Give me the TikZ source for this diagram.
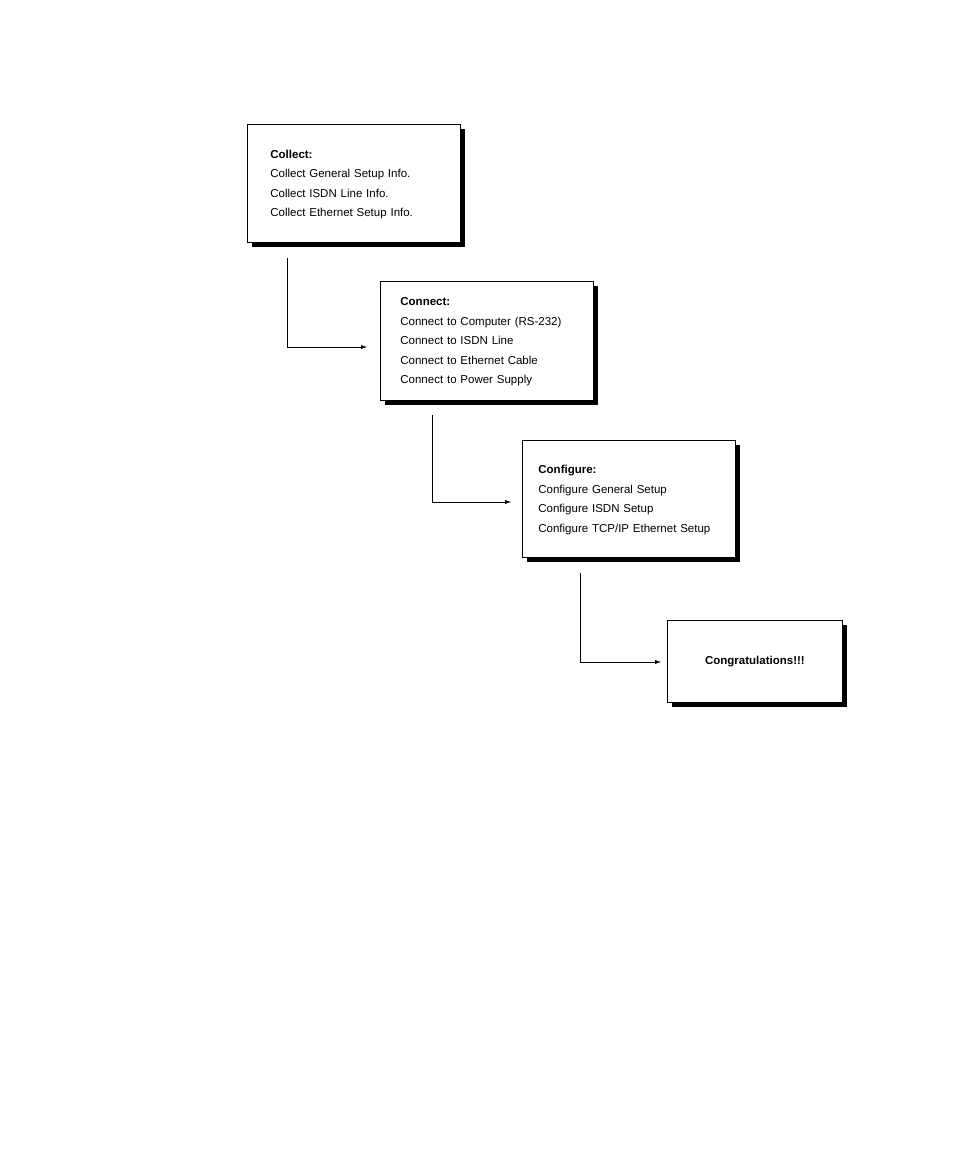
\documentclass[tikz,border=0pt]{standalone}
\usepackage{fontspec}
\setmainfont{Liberation Sans}
\usetikzlibrary{shadows, arrows.meta, positioning}

\tikzset{
  stepbox/.style={draw, thick, fill=white, anchor=north west, inner sep=0pt,
    text width=#1, align=left, font=\fontsize{11.5}{19.5}\selectfont,
    drop shadow={shadow xshift=5pt, shadow yshift=-5pt, fill=black, opacity=1}},
  flow/.style={-{Latex[length=6pt,width=4pt]}}
}

\begin{document}
\begin{tikzpicture}[x=1pt,y=-1pt]
    \useasboundingbox (0,0) rectangle (954,1159);

    \node (Collect) [stepbox=197pt, minimum width=213pt, minimum height=118pt] at (247,124)
      {\hspace*{15pt}\begin{tabular}{@{}l@{}}\textbf{Collect:}\\Collect General Setup Info.\\Collect ISDN Line Info.\\Collect Ethernet Setup Info.\end{tabular}};
    \node (Connect) [stepbox=197pt, minimum width=213pt, minimum height=119pt] at (380,281)
      {\hspace*{12pt}\begin{tabular}{@{}l@{}}\textbf{Connect:}\\Connect to Computer (RS-232)\\Connect to ISDN Line\\Connect to Ethernet Cable\\Connect to Power Supply\end{tabular}};
    \node (Configure) [stepbox=197pt, minimum width=213pt, minimum height=117pt] at (522,440)
      {\hspace*{8pt}\begin{tabular}{@{}l@{}}\textbf{Configure:}\\Configure General Setup\\Configure ISDN Setup\\Configure TCP/IP Ethernet Setup\end{tabular}};
    \node (Congrats) [stepbox=175pt, align=center, minimum width=175pt, minimum height=82pt] at (667,620)
      {\textbf{Congratulations!!!}};

    % connectors
    \coordinate (CollectOut) at (287,258);
    \coordinate (ConnectIn) at (367,347);
    \coordinate (ConnectOut) at (432,415);
    \coordinate (ConfigureIn) at (511,502);
    \coordinate (ConfigureOut) at (580,573);
    \coordinate (CongratsIn) at (661,662);
    \draw[flow] (CollectOut) |- (ConnectIn);
    \draw[flow] (ConnectOut) |- (ConfigureIn);
    \draw[flow] (ConfigureOut) |- (CongratsIn);
\end{tikzpicture}
\end{document}
